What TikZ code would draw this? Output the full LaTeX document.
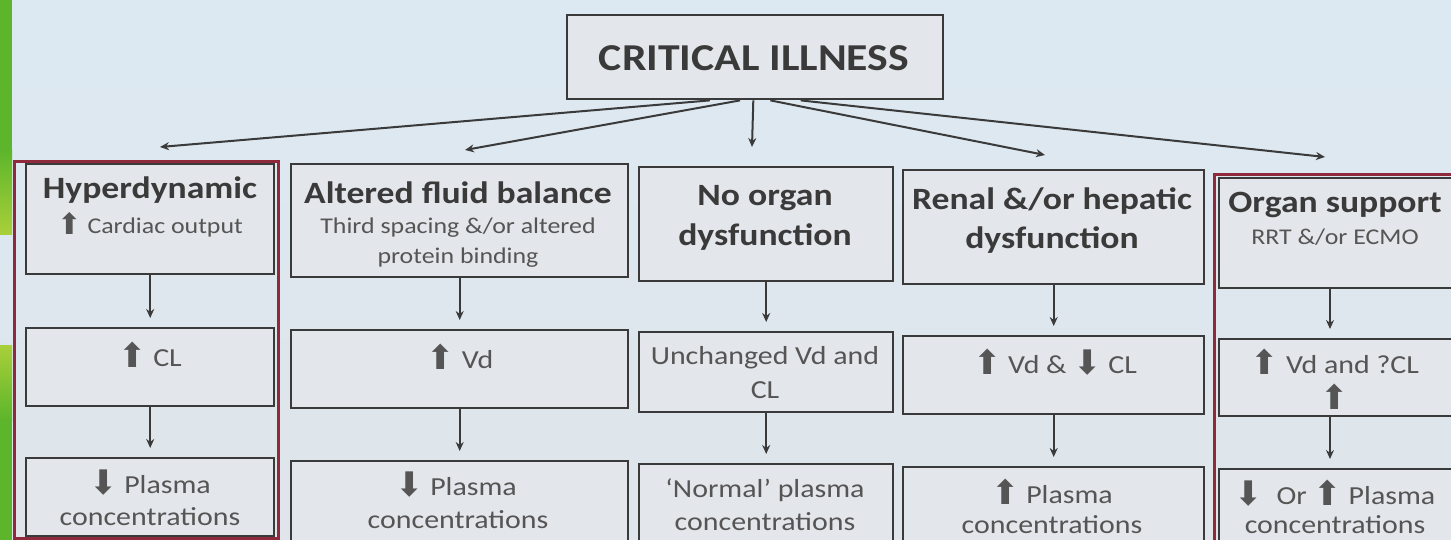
\documentclass[tikz,border=0pt]{standalone}
\usepackage{fontspec}
\setmainfont{Carlito}[FakeStretch=1.15]
\newfontfamily\arrowfont{DejaVu Sans}
\usetikzlibrary{arrows.meta,calc}
\newcommand{\upar}{\raisebox{-0.05em}{\scalebox{1.3}{\arrowfont\char"2B06}}}
\newcommand{\dnar}{\raisebox{-0.05em}{\scalebox{1.3}{\arrowfont\char"2B07}}}
\definecolor{bgtop}{HTML}{DCE9F3}
\definecolor{bgbot}{HTML}{DFE5EA}
\definecolor{boxfill}{HTML}{E3E6EA}
\definecolor{boxline}{HTML}{3A3A3A}
\definecolor{frame}{HTML}{8E2A3C}
\definecolor{ink}{HTML}{3A3A3A}
\definecolor{subink}{HTML}{555555}
\definecolor{leafgreen}{HTML}{5DB52B}
\definecolor{lightgreen}{HTML}{A9D03A}
\tikzset{
  box/.style={draw=boxline, line width=2.4pt, fill=boxfill, anchor=north west, inner sep=0pt},
  redframe/.style={draw=frame, line width=3pt, anchor=north west, inner sep=0pt},
  head/.style={font=\fontsize{38}{40}\selectfont\bfseries, text=ink},
  ttl/.style={font=\fontsize{31}{33}\selectfont\bfseries, text=ink},
  sub/.style={font=\fontsize{22.5}{24}\selectfont, text=subink},
  txt/.style={font=\fontsize{26}{28}\selectfont, text=subink},
  arr/.style={draw=boxline, line width=2pt, -{Stealth[length=9pt,width=8pt]}},
}
\begin{document}
\begin{tikzpicture}[x=1pt,y=-1pt]
\useasboundingbox (0,0) rectangle (1451,540);
\clip (0,0) rectangle (1451,540);
% background and the green edge strip
\shade[top color=bgtop, bottom color=bgbot] (0,0) rectangle (1451,540);
\fill[leafgreen] (0,0) rectangle (12,215);
\shade[top color=leafgreen, bottom color=lightgreen] (0,150) rectangle (12,235);
\shade[top color=lightgreen, bottom color=leafgreen] (0,345) rectangle (12,420);
\fill[leafgreen] (0,420) rectangle (12,540);

% root
\node[box, minimum width=376pt, minimum height=84pt] (ci) at (566,14) {};
\node[head] (cit) at (754,58) {CRITICAL ILLNESS};

% red frames around the outer columns
\node[redframe, minimum width=264pt, minimum height=377pt] (f1) at (13,160) {};
\node[redframe, minimum width=260pt, minimum height=372pt] (f5) at (1213,173) {};

% column 1
\node[box, minimum width=248pt, minimum height=110pt] (a1) at (25,163) {};
\node[box, minimum width=248pt, minimum height=78pt]  (a2) at (25,327) {};
\node[box, minimum width=248pt, minimum height=78pt]  (a3) at (25,457) {};
% column 2
\node[box, minimum width=337pt, minimum height=113pt] (b1) at (290,163) {};
\node[box, minimum width=337pt, minimum height=78pt]  (b2) at (290,329) {};
\node[box, minimum width=337pt, minimum height=80pt]  (b3) at (290,460) {};
% column 3
\node[box, minimum width=254pt, minimum height=114pt] (c1) at (638,166) {};
\node[box, minimum width=254pt, minimum height=80pt]  (c2) at (638,331) {};
\node[box, minimum width=254pt, minimum height=80pt]  (c3) at (638,463) {};
% column 4
\node[box, minimum width=301pt, minimum height=114pt] (d1) at (902,169) {};
\node[box, minimum width=301pt, minimum height=78pt]  (d2) at (902,335) {};
\node[box, minimum width=301pt, minimum height=80pt]  (d3) at (902,466) {};
% column 5
\node[box, minimum width=242pt, minimum height=110pt] (e1) at (1218,177) {};
\node[box, minimum width=242pt, minimum height=77pt]  (e2) at (1218,338) {};
\node[box, minimum width=242pt, minimum height=80pt]  (e3) at (1218,468) {};

% labels
\node[ttl] (a1t) at (150,190) {Hyperdynamic};
\node[sub] (a1s) at (150,225) {\upar\ Cardiac output};
\node[txt] (a2t) at (150,355) {\upar\ CL};
\node[txt] (a3t) at (150,483) {\dnar\ Plasma};
\node[txt] (a3s) at (150,517) {concentrations};

\node[ttl] (b1t) at (458,193) {Altered fluid balance};
\node[sub] (b1s) at (458,228) {Third spacing \&/or altered};
\node[sub] (b1u) at (458,258) {protein binding};
\node[txt] (b2t) at (460,357) {\upar\ Vd};
\node[txt] (b3t) at (456,485) {\dnar\ Plasma};
\node[txt] (b3s) at (458,520) {concentrations};

\node[ttl] (c1t) at (765,198) {No organ};
\node[ttl] (c1s) at (765,237) {dysfunction};
\node[txt] (c2t) at (765,358) {Unchanged Vd and};
\node[txt] (c2s) at (765,390) {CL};
\node[txt] (c3t) at (765,490) {`Normal' plasma};
\node[txt] (c3s) at (765,522) {concentrations};

\node[ttl] (d1t) at (1052,201) {Renal \&/or hepatic};
\node[ttl] (d1s) at (1052,240) {dysfunction};
\node[txt] (d2t) at (1055,362) {\upar\ Vd \& \dnar\ CL};
\node[txt] (d3t) at (1052,492) {\upar\ Plasma};
\node[txt] (d3s) at (1052,525) {concentrations};

\node[ttl] (e1t) at (1335,205) {Organ support};
\node[sub] (e1s) at (1335,237) {RRT \&/or ECMO};
\node[txt] (e2t) at (1335,362) {\upar\ Vd and ?CL};
\node[txt] (e2s) at (1335,397) {\upar};
\node[txt] (e3t) at (1335,493) {\dnar\ \ Or \upar\ Plasma};
\node[txt] (e3s) at (1335,525) {concentrations};

% fan-out from the root
\coordinate (t1) at (160,147);
\coordinate (t2) at (465,150);
\coordinate (t3) at (752,147);
\coordinate (t4) at (1045,155);
\coordinate (t5) at (1325,157);
\draw[arr] ($(ci.south west)!0.38!(ci.south east)$) -- (t1);
\draw[arr] ($(ci.south west)!0.46!(ci.south east)$) -- (t2);
\draw[arr] ($(ci.south west)!0.495!(ci.south east)$) -- (t3);
\draw[arr] ($(ci.south west)!0.54!(ci.south east)$) -- (t4);
\draw[arr] ($(ci.south west)!0.62!(ci.south east)$) -- (t5);

% arrows down each column
\foreach \u/\v in {a1/a2,a2/a3,b1/b2,b2/b3,c1/c2,c2/c3,d1/d2,d2/d3}
  \draw[arr, shorten >=9pt] (\u.south) -- (\v.north);
\draw[arr, shorten >=9pt] (e1.south -| 1330,0) -- (e2.north -| 1330,0);
\draw[arr, shorten >=9pt] (e2.south -| 1330,0) -- (e3.north -| 1330,0);
\end{tikzpicture}
\end{document}
